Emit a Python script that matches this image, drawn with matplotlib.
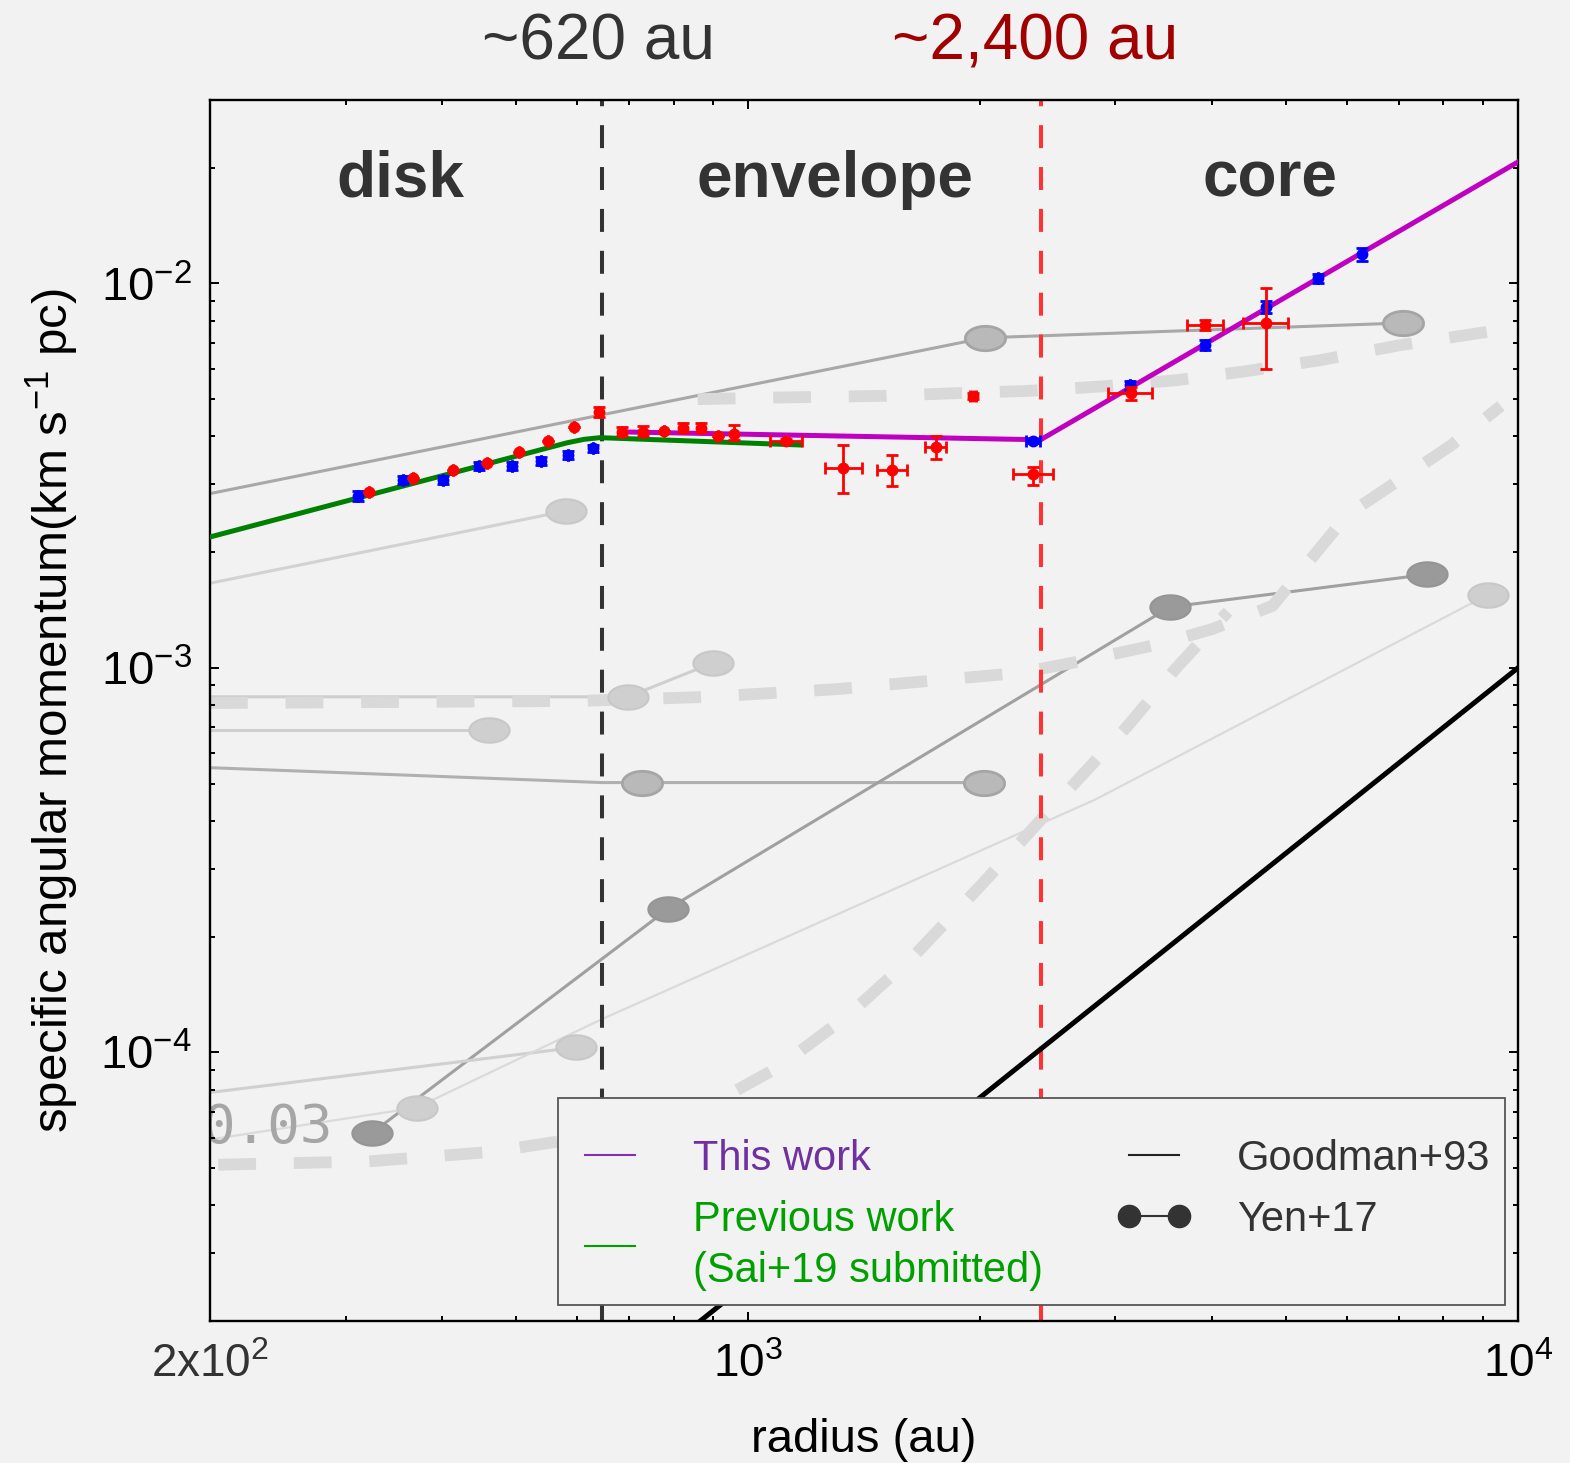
import numpy as np
import matplotlib
matplotlib.use("Agg")
import matplotlib.pyplot as plt
from matplotlib.lines import Line2D

plt.rcParams['font.family'] = ['Liberation Sans', 'DejaVu Sans']
plt.rcParams['mathtext.fontset'] = 'custom'
plt.rcParams['mathtext.rm'] = 'Liberation Sans'
plt.rcParams['mathtext.it'] = 'Liberation Sans:italic'
plt.rcParams['mathtext.bf'] = 'Liberation Sans:bold'

# ---- this work: red points (with asymmetric errors)
red_r = [322, 367, 414, 458, 504, 550, 594, 640, 686, 730, 778, 823, 869, 914, 958,
         1120, 1328, 1538, 1754, 1959, 2345, 3143, 3922, 4706]
red_j = [2.87e-3, 3.12e-3, 3.27e-3, 3.41e-3, 3.65e-3, 3.90e-3, 4.24e-3, 4.63e-3,
         4.11e-3, 4.11e-3, 4.13e-3, 4.21e-3, 4.21e-3, 4.01e-3, 4.06e-3, 3.90e-3,
         3.31e-3, 3.27e-3, 3.76e-3, 5.10e-3, 3.20e-3, 5.19e-3, 7.80e-3, 7.89e-3]
red_j_lo = [0, 0, 0, 0, 0, 0, 0, 0.15e-3, 0.10e-3, 0.10e-3, 0, 0.10e-3, 0.10e-3, 0, 0.14e-3,
            0.05e-3, 0.46e-3, 0.30e-3, 0.26e-3, 0.10e-3, 0.21e-3, 0.21e-3, 0.23e-3, 1.90e-3]
red_j_hi = [0, 0, 0, 0, 0, 0, 0, 0.14e-3, 0.13e-3, 0.15e-3, 0, 0.13e-3, 0.13e-3, 0, 0.23e-3,
            0.05e-3, 0.49e-3, 0.31e-3, 0.25e-3, 0.10e-3, 0.14e-3, 0.19e-3, 0.24e-3, 1.84e-3]
red_r_lo = [0, 0, 0, 0, 0, 0, 0, 0, 0, 0, 0, 0, 0, 0, 0,
            52, 70, 68, 57, 20, 137, 209, 206, 312]
red_r_hi = [0, 0, 0, 0, 0, 0, 0, 0, 0, 0, 0, 0, 0, 0, 0,
            54, 78, 70, 53, 20, 145, 203, 216, 320]

# ---- this work: blue points
blue_r = [311, 356, 401, 447, 494, 538, 583, 629, 2345, 3134, 3922, 4706, 5498, 6270]
blue_j = [2.80e-3, 3.08e-3, 3.08e-3, 3.35e-3, 3.35e-3, 3.46e-3, 3.58e-3, 3.73e-3,
          3.90e-3, 5.44e-3, 6.92e-3, 8.69e-3, 1.03e-2, 1.19e-2]
blue_j_err = [0.08e-3, 0.08e-3, 0.08e-3, 0.08e-3, 0.08e-3, 0.08e-3, 0.08e-3, 0.08e-3,
              0.05e-3, 0.15e-3, 0.20e-3, 0.30e-3, 0.30e-3, 0.45e-3]
blue_r_err = [0, 0, 0, 0, 0, 0, 0, 0, 50, 0, 0, 0, 0, 0]

# ---- fits
this_r = [682, 2398, 10000]
this_j = [4.11e-3, 3.92e-3, 2.07e-2]
prev_r = [200, 537, 582, 612, 642, 1168]
prev_j = [2.19e-3, 3.69e-3, 3.85e-3, 3.93e-3, 3.97e-3, 3.80e-3]
goodman_r = [800, 10000]
goodman_j = [1.76e-5, 1.0e-3]

# region borders
r_disk = 646
r_env = 2398

# ---- faded background figure (Yen+17 and models)
bg1_r = [200, 2030, 7088]
bg1_j = [2.84e-3, 7.22e-3, 7.89e-3]
bg2_r = [200, 580]
bg2_j = [1.66e-3, 2.56e-3]
bg3_r = [200, 698, 900]
bg3_j = [8.41e-4, 8.41e-4, 1.03e-3]
bg5_r = [200, 646, 728, 2024]
bg5_j = [5.50e-4, 5.03e-4, 5.03e-4, 5.03e-4]
bg6_r = [200, 461]
bg6_j = [6.90e-4, 6.90e-4]
bg7_r = [325, 787, 3532, 7616]
bg7_j = [6.18e-5, 2.36e-4, 1.44e-3, 1.75e-3]
bg8_r = [200, 598]
bg8_j = [7.86e-5, 1.03e-4]
bg9_r = [200, 371, 646, 2822, 9142]
bg9_j = [5.93e-5, 7.18e-5, 1.22e-4, 4.54e-4, 1.55e-3]
dash1_r = [200, 600, 880, 1300, 2250, 2700, 3400, 4000, 4800, 6000, 8200, 9500]
dash1_j = [8.1e-4, 8.2e-4, 8.4e-4, 8.8e-4, 9.7e-4, 1.04e-3, 1.15e-3, 1.26e-3, 1.45e-3, 2.5e-3, 3.8e-3, 4.8e-3]
dash2_r = [860, 1100, 1500, 1950, 2300, 2900, 3600, 4400, 5500, 7000, 9600]
dash2_j = [5.0e-3, 5.05e-3, 5.1e-3, 5.2e-3, 5.25e-3, 5.4e-3, 5.6e-3, 5.9e-3, 6.3e-3, 6.9e-3, 7.6e-3]
dash3_r = [205, 320, 460, 580, 860, 1100, 1350, 1650, 2000, 2500, 3100, 3600, 4200]
dash3_j = [5.1e-5, 5.2e-5, 5.5e-5, 5.9e-5, 7.0e-5, 9.2e-5, 1.25e-4, 1.8e-4, 2.7e-4, 4.4e-4, 7.0e-4, 1.0e-3, 1.4e-3]
mark_light_r = [580, 698, 900, 461, 598, 371, 9142]
mark_light_j = [2.56e-3, 8.41e-4, 1.03e-3, 6.90e-4, 1.03e-4, 7.18e-5, 1.55e-3]
mark_mid_r = [2030, 7088, 728, 2024]
mark_mid_j = [7.22e-3, 7.89e-3, 5.03e-4, 5.03e-4]
mark_dark_r = [325, 787, 3532, 7616]
mark_dark_j = [6.18e-5, 2.36e-4, 1.44e-3, 1.75e-3]

bg = '#f2f2f2'
fig = plt.figure(figsize=(15.7, 14.63), dpi=100, facecolor=bg)
ax = fig.add_axes([210 / 1570, 142 / 1463, 1308 / 1570, 1221 / 1463])
ax.set_facecolor(bg)
ax.set_xscale('log')
ax.set_yscale('log')
ax.set_xlim(200, 1e4)
ax.set_ylim(2.0e-5, 3.0e-2)

t = np.linspace(0, 2 * np.pi, 48)
ell = np.column_stack([1.65 * np.cos(t), np.sin(t)])

# background
ax.plot(bg1_r, bg1_j, color='#a8a8a8', lw=2.2, zorder=1)
ax.plot(bg2_r, bg2_j, color='#d2d2d2', lw=2.2, zorder=1)
ax.plot(bg3_r, bg3_j, color='#cfcfcf', lw=2.2, zorder=1)
ax.plot(bg5_r, bg5_j, color='#b0b0b0', lw=2.2, zorder=1)
ax.plot(bg6_r, bg6_j, color='#cfcfcf', lw=2.2, zorder=1)
ax.plot(bg7_r, bg7_j, color='#a0a0a0', lw=2.2, zorder=1)
ax.plot(bg8_r, bg8_j, color='#d0d0d0', lw=2.2, zorder=1)
ax.plot(bg9_r, bg9_j, color='#dadada', lw=1.6, zorder=1)
for xr, yj in [(dash1_r, dash1_j), (dash2_r, dash2_j), (dash3_r, dash3_j)]:
    ax.plot(xr, yj, color='#d9d9d9', lw=8.5, ls=(0, (3.2, 3.2)), zorder=1,
            solid_capstyle='butt', dash_capstyle='butt')
ax.plot(mark_light_r, mark_light_j, ls='none', marker=ell, ms=29, mfc='#cfcfcf', mec='#c8c8c8', mew=1.5, zorder=1.5)
ax.plot(mark_mid_r, mark_mid_j, ls='none', marker=ell, ms=29, mfc='#b9b9b9', mec='#a5a5a5', mew=2, zorder=1.5)
ax.plot(mark_dark_r, mark_dark_j, ls='none', marker=ell, ms=29, mfc='#9a9a9a', mec='#959595', mew=1.5, zorder=1.5)
ax.text(123 / 1308, 0.1458, '0.03', transform=ax.transAxes, ha='right',
        va='baseline', fontsize=39, color='#a6a6a6', family='DejaVu Sans Mono', clip_on=True, zorder=1)

# region borders
ax.axvline(r_disk, color='#333333', lw=2.9, ls=(0, (5.7, 4.7)), zorder=2)
ax.axvline(r_env, color='#ff3333', lw=2.9, ls=(0, (5.7, 4.7)), zorder=2)

# models / fits
ax.plot(goodman_r, goodman_j, color='black', lw=3.6, zorder=3)
ax.plot(prev_r, prev_j, color='#008000', lw=3.6, zorder=3)
ax.plot(this_r, this_j, color='#c000c0', lw=3.6, zorder=3)

ax.errorbar(blue_r, blue_j, yerr=blue_j_err, xerr=blue_r_err, fmt='o', color='#0000ff',
            ms=7.5, elinewidth=2, capsize=4, capthick=2, zorder=4)
ax.errorbar(red_r, red_j, yerr=[red_j_lo, red_j_hi], xerr=[red_r_lo, red_r_hi], fmt='o',
            color='#ff0000', ms=7.5, elinewidth=2, capsize=4.5, capthick=2, zorder=5)

# ticks
ax.set_xticks([200, 1000, 10000])
ax.set_xticklabels([r'2x10$^{2}$', r'$10^{3}$', r'$10^{4}$'])
ax.get_xticklabels()[0].set_color('#333333')
ax.set_yticks([1e-4, 1e-3, 1e-2])
ax.set_yticklabels([r'$10^{-4}$', r'$10^{-3}$', r'$10^{-2}$'])
ax.tick_params(which='both', direction='in', top=True, right=True, width=1.4)
ax.tick_params(which='major', length=6.5, labelsize=33)
ax.tick_params(which='minor', length=3.6)
ax.tick_params(axis='x', which='major', pad=16)
ax.tick_params(axis='y', which='major', pad=13, labelsize=34)
ax.xaxis.set_minor_formatter(matplotlib.ticker.NullFormatter())
ax.yaxis.set_minor_formatter(matplotlib.ticker.NullFormatter())
for s in ax.spines.values():
    s.set_linewidth(1.7)

ax.set_xlabel('radius (au)', fontsize=34, labelpad=22)
ax.set_ylabel(r'specific angular momentum(km s$^{-1}$ pc)', fontsize=35.5, labelpad=14)

# region names
for xa, name in [(0.1453, 'disk'), (0.4778, 'envelope'), (0.8104, 'core')]:
    ax.text(xa, 0.9345, name, transform=ax.transAxes, ha='center', va='center',
            fontsize=46, fontweight='bold', color='#333333', zorder=6)

fig.text(598 / 1570, 1 - 42 / 1463, '~620 au', ha='center', va='center', fontsize=46, color='#333333')
fig.text(1035 / 1570, 1 - 42 / 1463, '~2,400 au', ha='center', va='center', fontsize=46, color='#a00000')

handles = [
    Line2D([], [], color='#8030b0', lw=1.5),
    Line2D([], [], color='#00a000', lw=1.5),
    Line2D([], [], color='#222222', lw=1.5),
    Line2D([], [], color='#333333', lw=1.5, marker='o', ms=16),
]
labels = ['This work', 'Previous work\n(Sai+19 submitted)', 'Goodman+93', 'Yen+17']
# blank title only adds some room above the entries
leg = ax.legend(handles, labels, ncol=2, loc='lower right', bbox_to_anchor=(0.990, 0.013),
                borderaxespad=0, fontsize=30, numpoints=2, handlelength=1.8, handletextpad=1.1,
                columnspacing=1.75, labelspacing=0.5, borderpad=0.35, fancybox=False,
                facecolor=bg, framealpha=1, edgecolor='#555555', title=' ', title_fontsize=4)
leg.get_frame().set_linewidth(1.3)
leg.set_zorder(7)
for txt, c in zip(leg.get_texts(), ['#7030a0', '#00a000', '#333333', '#333333']):
    txt.set_color(c)
    txt.set_linespacing(1.35)

fig.savefig('out.png', dpi=100, facecolor=bg)
